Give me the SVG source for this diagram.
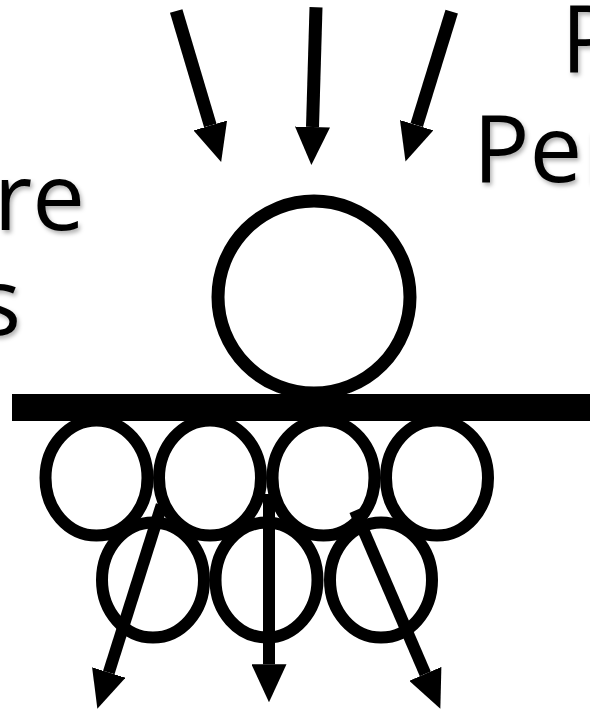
<svg xmlns="http://www.w3.org/2000/svg" width="590" height="713" viewBox="0 0 590 713">
  <defs>
    <style>
      .ball { fill: none; stroke: #000; stroke-width: 12; }
      .big { fill: none; stroke: #000; stroke-width: 13; }
      .arrow { stroke: #000; stroke-width: 13; fill: none; marker-end: url(#head); }
      .lbl { font-family: "Open Sans", "Noto Sans", sans-serif; font-size: 94px; fill: #000; filter: url(#shadow); }
    </style>
    <marker id="head" viewBox="0 -17.5 38 35" markerWidth="38" markerHeight="35" refX="0" refY="0" markerUnits="userSpaceOnUse" orient="auto">
      <path d="M0,-17.5 L38,0 L0,17.5 Z" fill="#000"/>
    </marker>
    <filter id="shadow" x="-10%" y="-10%" width="130%" height="140%">
      <feDropShadow dx="2" dy="3" stdDeviation="2" flood-color="#000" flood-opacity="0.3"/>
    </filter>
  </defs>
  <rect width="590" height="713" fill="#fff"/>

  <g id="labels">
    <text class="lbl" x="85" y="230" text-anchor="end">re</text>
    <text class="lbl" x="21" y="335" text-anchor="end">s</text>
    <text class="lbl" x="561" y="71.5">P</text>
    <text class="lbl" x="473" y="181.5">Per</text>
  </g>

  <g id="surface">
    <rect x="12" y="394" width="580" height="27" fill="#000"/>
  </g>

  <g id="particle">
    <circle class="big" cx="314" cy="297" r="96"/>
  </g>

  <g id="layer-top">
    <ellipse id="g1" class="ball" cx="96.5" cy="478" rx="51" ry="57.5"/>
    <ellipse id="g2" class="ball" cx="210" cy="478" rx="51" ry="57.5"/>
    <ellipse id="g3" class="ball" cx="323.5" cy="478" rx="51" ry="57.5"/>
    <ellipse id="g4" class="ball" cx="437" cy="478" rx="51" ry="57.5"/>
  </g>
  <g id="layer-bottom">
    <ellipse id="g5" class="ball" cx="153" cy="580" rx="51" ry="57.5"/>
    <ellipse id="g6" class="ball" cx="266.5" cy="580" rx="51" ry="57.5"/>
    <ellipse id="g7" class="ball" cx="381" cy="580" rx="51" ry="57.5"/>
  </g>

  <g id="connectors">
    <line class="arrow" x1="176.2" y1="11" x2="210.3" y2="125.5"/>
    <line class="arrow" x1="316" y1="7.3" x2="312.5" y2="127"/>
    <line class="arrow" x1="451.7" y1="11.7" x2="416.7" y2="125.2"/>
    <line class="arrow" style="stroke-width:12" x1="161.7" y1="505" x2="108.8" y2="672.5"/>
    <line class="arrow" style="stroke-width:12" x1="269" y1="494" x2="269" y2="664.3"/>
    <line class="arrow" style="stroke-width:12" x1="355" y1="510.7" x2="425.3" y2="673.8"/>
  </g>
</svg>
